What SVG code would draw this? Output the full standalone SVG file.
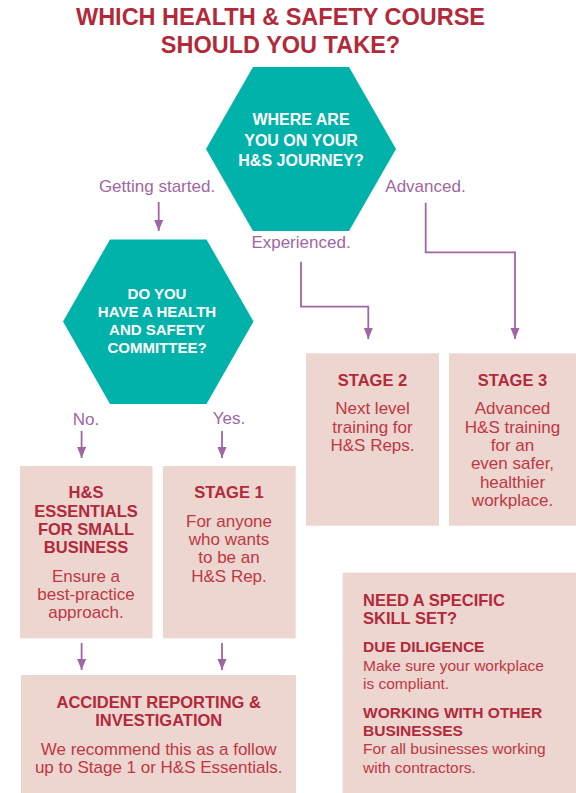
<svg xmlns="http://www.w3.org/2000/svg" width="576" height="793" viewBox="0 0 576 793">
<defs>
<style>
.title{font-family:"Liberation Sans",Arial,sans-serif;font-weight:bold;font-size:23.5px;fill:#B2293A;text-anchor:middle}
.hex{fill:#00B2AA}
.hext{font-family:"Liberation Sans",Arial,sans-serif;font-weight:bold;fill:#FFFFFF;text-anchor:middle}
.lbl{font-family:"Liberation Sans",Arial,sans-serif;font-size:17px;fill:#A066A3;text-anchor:middle}
.box{fill:#EDD5D0}
.hd{font-family:"Liberation Sans",Arial,sans-serif;font-weight:bold;font-size:16.5px;fill:#B2293A;text-anchor:middle}
.bd{font-family:"Liberation Sans",Arial,sans-serif;font-size:17px;fill:#BE3844;text-anchor:middle}
.shd{font-family:"Liberation Sans",Arial,sans-serif;font-weight:bold;font-size:15.5px;fill:#B2293A}
.sbd{font-family:"Liberation Sans",Arial,sans-serif;font-size:15.5px;fill:#BE3844}
.conn{fill:none;stroke:#A066A3;stroke-width:1.8}
</style>
<marker id="ah" markerUnits="userSpaceOnUse" markerWidth="12" markerHeight="10" refX="11" refY="4.5" orient="auto">
<path d="M0,0 L11,4.5 L0,9 Z" fill="#A066A3"/>
</marker>
</defs>
<rect width="576" height="793" fill="#FFFFFF"/>
<g id="title">
<text class="title" x="280.5" y="25">WHICH HEALTH &amp; SAFETY COURSE</text>
<text class="title" x="280.5" y="53">SHOULD YOU TAKE?</text>
</g>
<g id="q-journey">
<polygon class="hex" points="253,67 349,67 396,149 349,231 253,231 206,149"/>
<text class="hext" font-size="16" x="301" y="125">WHERE ARE</text>
<text class="hext" font-size="16" x="301" y="145.5">YOU ON YOUR</text>
<text class="hext" font-size="16" x="301" y="165.5">H&amp;S JOURNEY?</text>
</g>
<g id="q-committee">
<polygon class="hex" points="110,239.5 206.5,239.5 253.5,321.5 206.5,404 110,404 63,321.5"/>
<text class="hext" font-size="15" x="157" y="299">DO YOU</text>
<text class="hext" font-size="15" x="157" y="317.3">HAVE A HEALTH</text>
<text class="hext" font-size="15" x="157" y="335.3">AND SAFETY</text>
<text class="hext" font-size="15" x="157" y="353.3">COMMITTEE?</text>
</g>
<g id="labels">
<text class="lbl" x="157" y="192">Getting started.</text>
<text class="lbl" x="425.5" y="192">Advanced.</text>
<text class="lbl" x="301" y="248">Experienced.</text>
<text class="lbl" x="86" y="425">No.</text>
<text class="lbl" x="229" y="424">Yes.</text>
</g>
<g id="connectors">
<path class="conn" marker-end="url(#ah)" d="M158.7,202 V231"/>
<path class="conn" marker-end="url(#ah)" d="M425.7,202.7 V252.3 H515 V339"/>
<path class="conn" marker-end="url(#ah)" d="M301,261.7 V306.7 H368.3 V339"/>
<path class="conn" marker-end="url(#ah)" d="M81.6,431 V458"/>
<path class="conn" marker-end="url(#ah)" d="M222,431 V458"/>
<path class="conn" marker-end="url(#ah)" d="M81.6,643 V670"/>
<path class="conn" marker-end="url(#ah)" d="M222,643 V670"/>
</g>
<g id="stage2">
<rect class="box" x="306" y="353.3" width="133" height="172.4"/>
<text class="hd" x="372.5" y="385.7">STAGE 2</text>
<text class="bd" x="372.5" y="414.3">Next level</text>
<text class="bd" x="372.5" y="432.6">training for</text>
<text class="bd" x="372.5" y="451">H&amp;S Reps.</text>
</g>
<g id="stage3">
<rect class="box" x="449" y="353.3" width="127" height="172.4"/>
<text class="hd" x="512.5" y="385.7">STAGE 3</text>
<text class="bd" x="512.5" y="414.3">Advanced</text>
<text class="bd" x="512.5" y="432.6">H&amp;S training</text>
<text class="bd" x="512.5" y="451">for an</text>
<text class="bd" x="512.5" y="469.3">even safer,</text>
<text class="bd" x="512.5" y="487.7">healthier</text>
<text class="bd" x="512.5" y="506">workplace.</text>
</g>
<g id="essentials">
<rect class="box" x="20" y="466" width="132.5" height="172.3"/>
<text class="hd" x="86" y="498.3">H&amp;S</text>
<text class="hd" x="86" y="516.6">ESSENTIALS</text>
<text class="hd" x="86" y="535">FOR SMALL</text>
<text class="hd" x="86" y="553.3">BUSINESS</text>
<text class="bd" x="86" y="581.7">Ensure a</text>
<text class="bd" x="86" y="600">best-practice</text>
<text class="bd" x="86" y="618.3">approach.</text>
</g>
<g id="stage1">
<rect class="box" x="163" y="466" width="132.7" height="172.3"/>
<text class="hd" x="229" y="498.3">STAGE 1</text>
<text class="bd" x="229" y="526.7">For anyone</text>
<text class="bd" x="229" y="545">who wants</text>
<text class="bd" x="229" y="563.3">to be an</text>
<text class="bd" x="229" y="581.7">H&amp;S Rep.</text>
</g>
<g id="accident">
<rect class="box" x="21" y="675" width="275" height="118"/>
<text class="hd" x="158.7" y="707.7">ACCIDENT REPORTING &amp;</text>
<text class="hd" x="158.7" y="725.7">INVESTIGATION</text>
<text class="bd" x="158.7" y="755">We recommend this as a follow</text>
<text class="bd" x="158.7" y="773.3">up to Stage 1 or H&amp;S Essentials.</text>
</g>
<g id="skills">
<rect class="box" x="342.7" y="572.7" width="233.3" height="220.3"/>
<text class="hd" style="text-anchor:start" x="363" y="605.7">NEED A SPECIFIC</text>
<text class="hd" style="text-anchor:start" x="363" y="624">SKILL SET?</text>
<text class="shd" x="363" y="652.3">DUE DILIGENCE</text>
<text class="sbd" x="363" y="670.7">Make sure your workplace</text>
<text class="sbd" x="363" y="689">is compliant.</text>
<text class="shd" x="363" y="717.7">WORKING WITH OTHER</text>
<text class="shd" x="363" y="735.7">BUSINESSES</text>
<text class="sbd" x="363" y="754.3">For all businesses working</text>
<text class="sbd" x="363" y="773.3">with contractors.</text>
</g>
</svg>
